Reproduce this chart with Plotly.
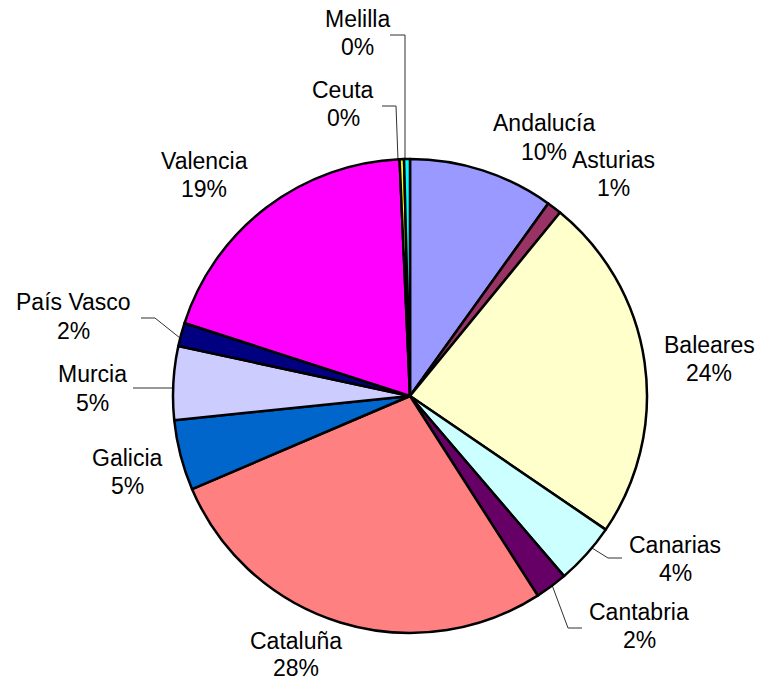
import plotly.graph_objects as go

# ---- data ----
regions = ["Andalucía", "Asturias", "Baleares", "Canarias", "Cantabria", "Cataluña",
           "Galicia", "Murcia", "País Vasco", "Valencia", "Ceuta", "Melilla"]
values = [9.9, 1.0, 23.6, 4.2, 2.2, 27.6, 4.8, 5.0, 1.6, 19.3, 0.3, 0.4]
colors = ["#9999FF", "#993366", "#FFFFCC", "#CCFFFF", "#660066", "#FF8080",
          "#0066CC", "#CCCCFF", "#000080", "#FF00FF", "#FFFF00", "#00FFFF"]

W, H = 761, 686
total = sum(values)
pct_texts = [f"{round(v / total * 100):d}%" for v in values]

# ---- layout helpers (styling / label placement, in pixels) ----
def px(x):
    return x / W

def py(y):
    return 1 - y / H

cx, cy, R = 410, 396, 237

# label centers (pixels): x, name line y, percent line y
label_pos = {
    "Andalucía": (544, 123, 152),
    "Asturias": (613, 160, 188),
    "Baleares": (709, 345, 373),
    "Canarias": (675, 545, 573),
    "Cantabria": (639, 612, 640),
    "Cataluña": (296, 641, 668),
    "Galicia": (127, 458, 486),
    "Murcia": (92, 374, 403),
    "País Vasco": (73, 302, 331),
    "Valencia": (204, 161, 189),
    "Ceuta": (343, 90, 118),
    "Melilla": (357, 19, 47),
}

leader_paths = [
    [(390, 35), (405, 35), (405, 160)],       # Melilla
    [(382, 106), (396, 106), (398, 160)],     # Ceuta
    [(592, 548), (608, 558), (622, 558)],     # Canarias
    [(552, 585), (568, 628), (582, 628)],     # Cantabria
    [(133, 388), (173, 388)],                 # Murcia
    [(141, 318), (155, 318), (180, 338)],     # País Vasco
]

fig = go.Figure()
fig.add_trace(go.Pie(
    labels=regions,
    values=values,
    sort=False,
    direction="clockwise",
    rotation=0,
    textinfo="none",
    hoverinfo="label+percent",
    marker=dict(colors=colors, line=dict(color="black", width=2.5)),
    domain=dict(x=[px(cx - R), px(cx + R)], y=[py(cy + R), py(cy - R)]),
    showlegend=False,
))

font = dict(family="Liberation Sans, Arial, sans-serif", size=23, color="black")
annotations = []
for r, p in zip(regions, pct_texts):
    x, y1, y2 = label_pos[r]
    for txt, y in ((r, y1), (p, y2)):
        annotations.append(dict(
            x=px(x), y=py(y), xref="paper", yref="paper",
            text=txt, showarrow=False, align="center",
            xanchor="center", yanchor="middle", font=font,
        ))

shapes = []
for pts in leader_paths:
    path = "M " + " L ".join(f"{px(x)} {py(y)}" for x, y in pts)
    shapes.append(dict(type="path", xref="paper", yref="paper", path=path,
                       line=dict(color="#303030", width=1), layer="below"))

fig.update_layout(
    width=W, height=H,
    margin=dict(l=0, r=0, t=0, b=0),
    paper_bgcolor="white",
    plot_bgcolor="white",
    annotations=annotations,
    shapes=shapes,
)

fig.write_html("out.html", config={"displayModeBar": False},
               post_script="document.body.style.margin='0';")
